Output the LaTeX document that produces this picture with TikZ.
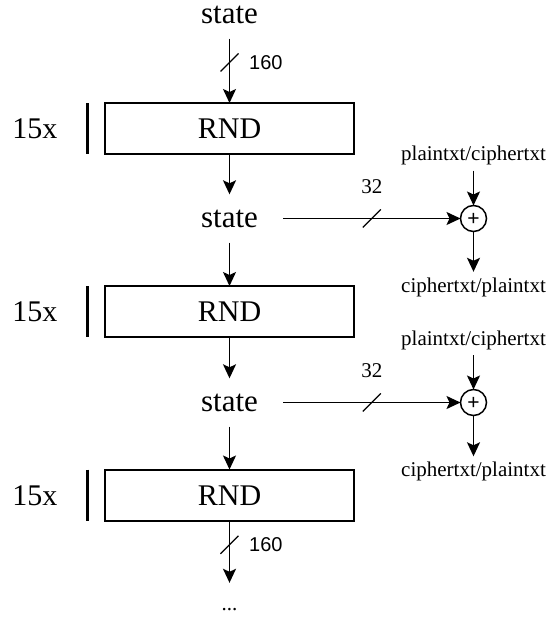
\documentclass[tikz,border=0pt]{standalone}
\usepackage{fontspec}
\setmainfont{Liberation Serif}
\newfontfamily\numfont{Liberation Sans}
\usetikzlibrary{arrows.meta,calc}

\begin{document}
\begin{tikzpicture}[x=1pt,y=-1pt,
  bigtext/.style={font=\fontsize{30}{30}\selectfont, text height=20pt, text depth=0pt, inner sep=0pt},
  statenode/.style={font=\fontsize{31}{31}\selectfont, anchor=base, text height=18pt, text depth=0pt, inner xsep=25pt, inner ysep=15pt},
  rnd/.style={draw, line width=2pt, minimum width=249pt, minimum height=51pt, outer sep=0pt, inner sep=0pt, font=\fontsize{30}{30}\selectfont, text height=20pt, text depth=0pt},
  io/.style={font=\fontsize{21}{21}\selectfont, text height=15pt, text depth=5pt, inner xsep=0pt, inner ysep=5pt},
  width/.style={font=\fontsize{21}{21}\selectfont, inner sep=0pt, anchor=base},
  widthsans/.style={font=\numfont\fontsize{20}{20}\selectfont, inner sep=0pt, anchor=base west},
  xorop/.style={draw, circle, line width=1.5pt, minimum size=26pt, inner sep=0pt, outer sep=0pt, font=\numfont\fontsize{21}{21}\selectfont, text height=14.8pt, text depth=0pt},
  arr/.style={line width=1.6pt, -{Stealth[length=14pt,width=13pt,inset=3pt]}},
  slash/.style={line width=1.3pt},
  bar/.style={line width=2.2pt}
]
\useasboundingbox (0,0) rectangle (552,621);

% main chain of states and round blocks
\node[statenode] (s1) at (229.5,23.5) {state};
\node[rnd] (b1) at (229.5,128.5) {RND};
\node[statenode] (s2) at (229.5,227.5) {state};
\node[rnd] (b2) at (229.5,311.5) {RND};
\node[statenode] (s3) at (229.5,411.5) {state};
\node[rnd] (b3) at (229.5,495) {RND};
\node[font=\fontsize{21}{21}\selectfont, inner sep=0pt, text height=27pt, text depth=0pt, anchor=base] (more) at (229.5,610) {...};

% repetition counts
\foreach \b in {b1,b2,b3}{
  \node[bigtext] (n\b) at ([xshift=-70pt]\b.west) {15x};
  \draw[bar] ([xshift=-17.5pt]\b.north west) -- ([xshift=-17.5pt]\b.south west);
}

% keystream XOR stages
\node[io] (p1) at (473.5,155.5) {plaintxt/ciphertxt};
\node[xorop] (c1) at (473.5,218.5) {+};
\node[io] (o1) at (473.5,287) {ciphertxt/plaintxt};
\node[io] (p2) at (473.5,340) {plaintxt/ciphertxt};
\node[xorop] (c2) at (473.5,402.5) {+};
\node[io] (o2) at (473.5,471.5) {ciphertxt/plaintxt};

% vertical flow
\draw[arr] (s1.south) -- coordinate[pos=0.37] (k0) (b1.north);
\draw[arr] (b1.south) -- (s2.north);
\draw[arr] (s2.south) -- (b2.north);
\draw[arr] (b2.south) -- (s3.north);
\draw[arr] (s3.south) -- (b3.north);
\draw[arr] (b3.south) -- coordinate[pos=0.39] (k3) (more.north);

% keystream outputs
\draw[arr] (s2.east) -- coordinate[pos=0.5] (k1) (c1.west);
\draw[arr] (s3.east) -- coordinate[pos=0.5] (k2) (c2.west);
\draw[arr] (p1.south) -- (c1.north);
\draw[arr] (c1.south) -- (o1.north);
\draw[arr] (p2.south) -- (c2.north);
\draw[arr] (c2.south) -- (o2.north);

% bus width marks
\foreach \k in {k0,k1,k2,k3}{
  \draw[slash] ([shift={(-9,9)}]\k) -- ([shift={(9,-9)}]\k);
}
\node[widthsans] (w0) at ([xshift=19.5pt,yshift=-7pt]k0) {160};
\node[widthsans] (w3) at ([xshift=19.5pt,yshift=-7pt]k3) {160};
\node[width] (w1) at ([yshift=25pt]k1) {32};
\node[width] (w2) at ([yshift=25pt]k2) {32};
\end{tikzpicture}
\end{document}
